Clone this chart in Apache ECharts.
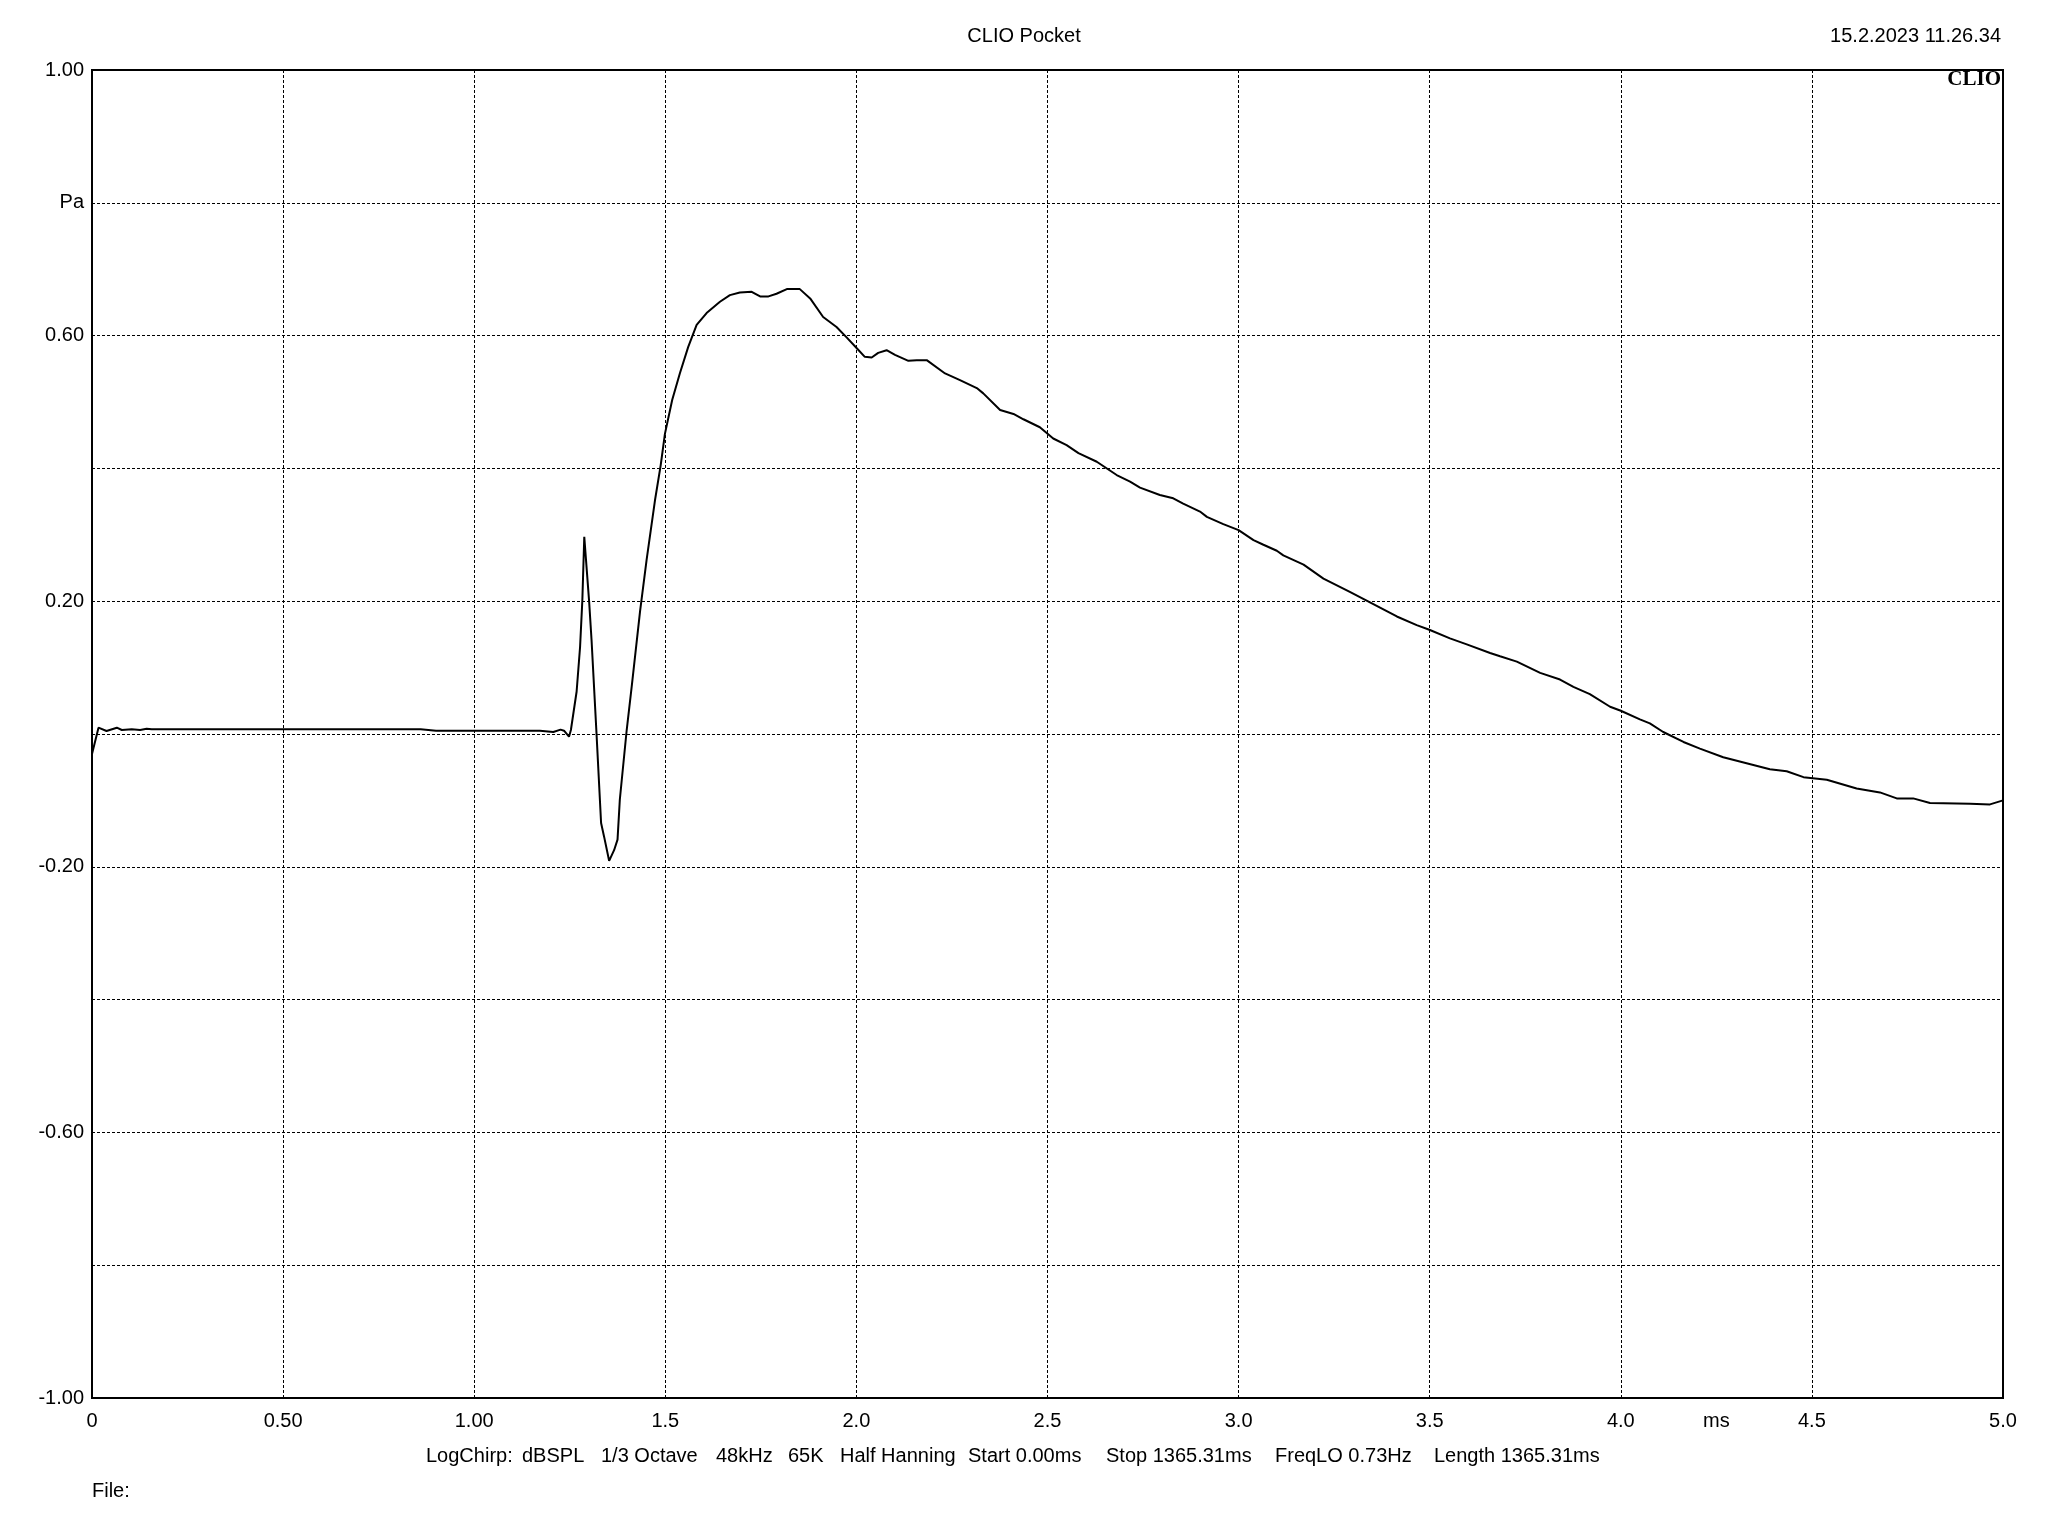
<!DOCTYPE html>
<html>
<head>
<meta charset="utf-8">
<script src="https://cdn.jsdelivr.net/npm/echarts@6/dist/echarts.min.js"></script>
<style>
html,body{margin:0;padding:0;background:#fff;}
#chart{width:2048px;height:1536px;}
</style>
</head>
<body>
<div id="chart"></div>
<script>
// ---- data (time in ms, pressure in Pa) ----
var timeMs = [0, 0.017, 0.038, 0.065, 0.078, 0.104, 0.126, 0.143, 0.156, 0.5, 0.86, 0.9,
  1.172, 1.207, 1.226, 1.235, 1.248, 1.253, 1.268, 1.277, 1.283, 1.288, 1.292, 1.301, 1.307,
  1.320, 1.332, 1.340, 1.353, 1.366, 1.375, 1.381, 1.399, 1.412, 1.434, 1.451, 1.473, 1.488,
  1.499, 1.518, 1.538, 1.560, 1.582, 1.608, 1.643, 1.669, 1.695, 1.726, 1.748, 1.770, 1.791,
  1.818, 1.852, 1.879, 1.913, 1.948, 1.975, 2.001, 2.022, 2.040, 2.057, 2.079, 2.101, 2.136,
  2.158, 2.184, 2.232, 2.271, 2.315, 2.332, 2.376, 2.411, 2.437, 2.480, 2.515, 2.550, 2.581,
  2.629, 2.681, 2.716, 2.742, 2.794, 2.829, 2.855, 2.899, 2.917, 2.960, 3.000, 3.039, 3.065,
  3.100, 3.117, 3.170, 3.222, 3.291, 3.335, 3.414, 3.466, 3.499, 3.553, 3.597, 3.658, 3.684,
  3.728, 3.789, 3.841, 3.876, 3.919, 3.972, 4.000, 4.050, 4.076, 4.111, 4.164, 4.207, 4.268,
  4.329, 4.390, 4.434, 4.478, 4.539, 4.617, 4.678, 4.722, 4.765, 4.809, 4.914, 4.966, 5.0];
var pressurePa = [-0.03, 0.0095, 0.0045, 0.0095, 0.006, 0.007, 0.006, 0.008, 0.007, 0.007, 0.007, 0.005,
  0.005, 0.003, 0.0066, 0.005, -0.004, 0.006, 0.064, 0.131, 0.202, 0.297, 0.297, 0.197, 0.142,
  0.001, -0.134, -0.155, -0.191, -0.175, -0.159, -0.099, 0.006, 0.071, 0.185, 0.262, 0.352, 0.405,
  0.452, 0.503, 0.543, 0.583, 0.616, 0.634, 0.651, 0.661, 0.665, 0.666, 0.659, 0.659, 0.663,
  0.670, 0.670, 0.656, 0.628, 0.613, 0.597, 0.581, 0.568, 0.567, 0.574, 0.578, 0.571, 0.562,
  0.563, 0.563, 0.543, 0.533, 0.521, 0.513, 0.488, 0.482, 0.474, 0.462, 0.445, 0.435, 0.423,
  0.410, 0.390, 0.380, 0.371, 0.360, 0.355, 0.347, 0.335, 0.327, 0.316, 0.307, 0.292, 0.285,
  0.276, 0.269, 0.255, 0.234, 0.214, 0.201, 0.177, 0.164, 0.157, 0.144, 0.135, 0.122, 0.117,
  0.109, 0.092, 0.082, 0.071, 0.060, 0.041, 0.035, 0.022, 0.016, 0.003, -0.012, -0.022, -0.035,
  -0.044, -0.053, -0.056, -0.065, -0.069, -0.082, -0.088, -0.097, -0.097, -0.104, -0.105, -0.106, -0.100];

var xTickLabels = ['0', '0.50', '1.00', '1.5', '2.0', '2.5', '3.0', '3.5', '4.0', '4.5', '5.0'];
var yTickLabels = ['-1.00', '', '-0.60', '', '-0.20', '', '0.20', '', '0.60', 'Pa', '1.00'];

var titleText = 'CLIO Pocket';
var dateText = '15.2.2023 11.26.34';
var xUnit = 'ms';
var footerItems = ['LogChirp:', 'dBSPL', '1/3 Octave', '48kHz', '65K', 'Half Hanning',
  'Start 0.00ms', 'Stop 1365.31ms', 'FreqLO 0.73Hz', 'Length 1365.31ms'];
var footerX = [426, 522, 601, 716, 788, 840, 968, 1106, 1275, 1434];

var seriesData = timeMs.map(function (t, i) { return [t, pressurePa[i]]; });

var FONT = 'Liberation Sans, Arial, sans-serif';
var chart = echarts.init(document.getElementById('chart'), null, {renderer: 'canvas', width: 2048, height: 1536});

var graphics = [
  {type: 'text', left: 'center', top: 26, style: {text: titleText, font: '20px ' + FONT, fill: '#000'}},
  {type: 'text', right: 47, top: 26, style: {text: dateText, font: '20px ' + FONT, fill: '#000'}},
  {type: 'text', right: 47, top: 69, z: 10, style: {text: 'CLIO', font: 'bold 21px Liberation Serif, serif', fill: '#000'}},
  {type: 'text', left: 92, top: 1481, style: {text: 'File:', font: '20px ' + FONT, fill: '#000'}}
];
footerItems.forEach(function (s, i) {
  graphics.push({type: 'text', left: footerX[i], top: 1446, style: {text: s, font: '20px ' + FONT, fill: '#000'}});
});

chart.setOption({
  backgroundColor: '#fff',
  animation: false,
  grid: {left: 92, right: 45, top: 70, bottom: 138, show: true, borderColor: '#000', borderWidth: 2, backgroundColor: 'transparent'},
  xAxis: {
    type: 'value', min: 0, max: 5, interval: 0.5,
    axisLine: {show: true, onZero: false, lineStyle: {color: '#000', width: 2}},
    axisTick: {show: false},
    splitLine: {show: true, lineStyle: {color: '#000', width: 1, type: [3, 2]}},
    axisLabel: {
      show: true, margin: 13, color: '#000', fontSize: 20, fontFamily: FONT,
      showMinLabel: true, showMaxLabel: true,
      formatter: function (v) { var i = Math.round(v / 0.5); return xTickLabels[i] || ''; }
    }
  },
  yAxis: {
    type: 'value', min: -1, max: 1, interval: 0.2,
    axisLine: {show: true, lineStyle: {color: '#000', width: 2}},
    axisTick: {show: false},
    splitLine: {show: true, lineStyle: {color: '#000', width: 1, type: [3, 2]}},
    axisLabel: {
      show: true, margin: 8, color: '#000', fontSize: 20, fontFamily: FONT,
      showMinLabel: true, showMaxLabel: true,
      formatter: function (v) { var i = Math.round((v + 1) / 0.2); return yTickLabels[i] || ''; }
    }
  },
  series: [{
    type: 'line', data: seriesData, showSymbol: false, symbol: 'none', smooth: false,
    lineStyle: {color: '#000', width: 2}, z: 5
  }],
  graphic: graphics
});

// unit label placed on the axis at 4.25 ms
var px = chart.convertToPixel({xAxisIndex: 0}, 4.25);
graphics.push({type: 'text', x: px, y: 1411, style: {text: xUnit, font: '20px ' + FONT, fill: '#000', align: 'center', verticalAlign: 'top'}});
chart.setOption({graphic: graphics});
</script>
</body>
</html>
